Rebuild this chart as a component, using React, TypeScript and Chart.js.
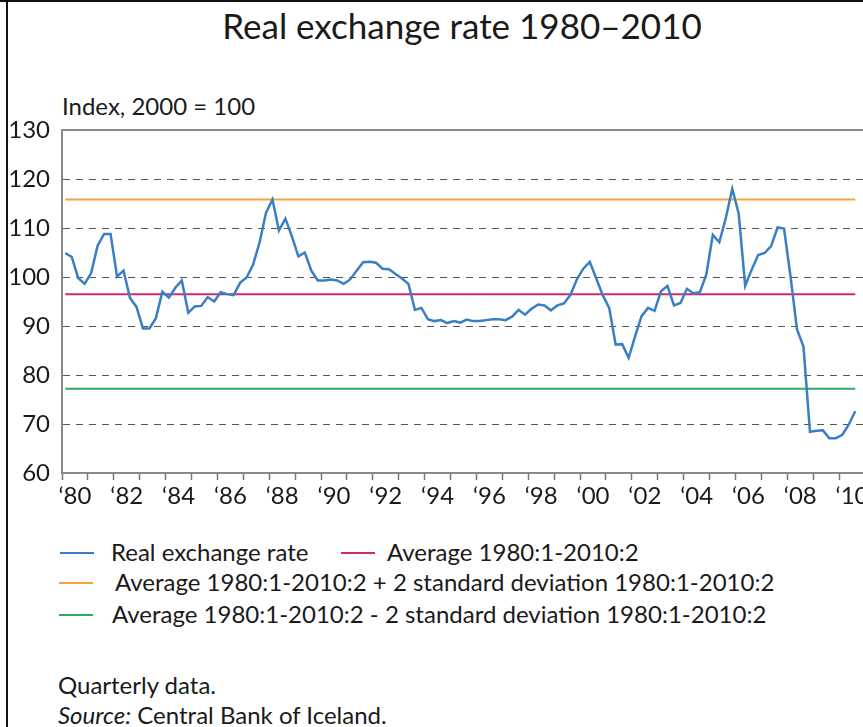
import React, { useEffect, useRef } from "react";
import { Chart, registerables } from "chart.js";

Chart.register(...registerables);

const FONT = "Lato, 'Open Sans', sans-serif";

// Quarterly data, first quarter 1980:1
const startYear = 1980;
const endYear = 2011;

const rate1980s = [
  104.9, 104.1, 99.8, 98.6, 100.8, 106.4, 108.8, 108.8, 100.1, 101.3,
  95.7, 93.9, 89.5, 89.5, 91.6, 97.0, 95.8, 97.8, 99.3, 92.7,
  94.0, 94.1, 95.9, 95.0, 96.9, 96.5, 96.3, 98.8, 99.9, 102.5,
  107.0, 113.1, 115.8, 109.5, 111.9, 108.3, 104.2, 105.0, 101.3, 99.3,
];
const rate1990s = [
  99.3, 99.5, 99.3, 98.6, 99.5, 101.3, 103.0, 103.1, 102.9, 101.7,
  101.6, 100.6, 99.7, 98.6, 93.3, 93.7, 91.4, 91.0, 91.2, 90.6,
  91.0, 90.7, 91.3, 91.0, 91.0, 91.2, 91.4, 91.4, 91.2, 91.9,
  93.3, 92.3, 93.5, 94.4, 94.2, 93.2, 94.2, 94.6, 96.3, 99.5,
];
const rate2000s = [
  101.7, 103.1, 99.7, 96.3, 93.7, 86.2, 86.3, 83.5, 87.9, 92.0,
  93.7, 93.1, 97.1, 98.2, 94.2, 94.7, 97.6, 96.7, 96.9, 100.5,
  108.6, 107.1, 112.0, 118.0, 112.9, 98.2, 101.5, 104.5, 104.9, 106.3,
  110.1, 109.9, 100.1, 89.3, 85.8, 68.4, 68.6, 68.7, 67.1, 67.1,
  67.8, 69.9, 72.6,
];
const realExchangeRate = [...rate1980s, ...rate1990s, ...rate2000s];

const averageLevel = 96.5;
const upperBand = 115.8; // average + 2 sd
const lowerBand = 77.2; // average - 2 sd

const yMin = 60;
const yMax = 130;
const yStep = 10;

const yearLabels = [
  "‘80", "‘82", "‘84", "‘86", "‘88", "‘90", "‘92", "‘94",
  "‘96", "‘98", "‘00", "‘02", "‘04", "‘06", "‘08", "‘10",
];

const seriesNames = [
  "Real exchange rate",
  "Average 1980:1-2010:2",
  "Average 1980:1-2010:2 + 2 standard deviation 1980:1-2010:2",
  "Average 1980:1-2010:2 - 2 standard deviation 1980:1-2010:2",
];
const seriesColors = ["#3a7fc4", "#cc2a72", "#f5a340", "#2eac60"];

const xOf = (i: number) => startYear + (i + 0.5) / 4;

function ChartCanvas() {
  const ref = useRef<HTMLCanvasElement>(null);
  useEffect(() => {
    const realPoints = realExchangeRate.map((v, i) => ({ x: xOf(i), y: v }));
    const levelPoints = (lvl: number) =>
      realExchangeRate.map((_, i) => ({ x: xOf(i), y: lvl }));
    const levels = [null, averageLevel, upperBand, lowerBand];

    const chart = new Chart(ref.current as HTMLCanvasElement, {
      type: "line",
      data: {
        datasets: seriesNames.map((name, k) => ({
          label: name,
          data: k === 0 ? realPoints : levelPoints(levels[k] as number),
          borderColor: seriesColors[k],
          backgroundColor: seriesColors[k],
          borderWidth: k === 0 ? 2.5 : 2,
          pointRadius: 0,
          tension: 0,
          fill: false,
        })),
      },
      options: {
        animation: false,
        responsive: true,
        maintainAspectRatio: false,
        layout: { padding: { top: 30, left: 8, right: 15, bottom: 0 } },
        plugins: {
          legend: { display: false },
          title: { display: false },
          tooltip: { enabled: false },
        },
        scales: {
          x: {
            type: "linear",
            min: startYear,
            max: endYear,
            afterBuildTicks: (scale: any) => {
              const t: { value: number }[] = [];
              for (let y = startYear; y <= endYear; y++) {
                t.push({ value: y });
                if (y < endYear) t.push({ value: y + 0.5 });
              }
              scale.ticks = t;
            },
            afterFit: (scale: any) => {
              scale.height = 40;
            },
            ticks: {
              autoSkip: false,
              maxRotation: 0,
              minRotation: 0,
              padding: 2,
              color: "#1a1a1a",
              font: { family: FONT, size: 24 },
              callback: (value: any) => {
                const v = Number(value);
                if (Math.abs(v - Math.floor(v) - 0.5) > 1e-6) return "";
                const yr = Math.floor(v);
                if ((yr - startYear) % 2 !== 0) return "";
                return yearLabels[(yr - startYear) / 2] ?? "";
              },
            },
            grid: {
              drawOnChartArea: false,
              drawTicks: true,
              tickLength: 7,
              tickWidth: 1.5,
              tickColor: (ctx: any) =>
                ctx.tick && Number.isInteger(ctx.tick.value) ? "#777" : "rgba(0,0,0,0)",
            },
            border: { display: true, color: "#888", width: 2 },
          },
          y: {
            type: "linear",
            min: yMin,
            max: yMax,
            afterFit: (scale: any) => {
              scale.width = 54;
            },
            ticks: {
              stepSize: yStep,
              padding: 12,
              color: "#1a1a1a",
              font: { family: FONT, size: 24 },
            },
            grid: {
              drawTicks: false,
              color: (ctx: any) =>
                ctx.tick && ctx.tick.value === yMax ? "#888" : "#555",
              lineWidth: (ctx: any) =>
                ctx.tick && ctx.tick.value === yMax ? 2 : 1,
            },
            border: {
              display: true,
              color: "#888",
              width: 2,
              dash: (ctx: any) =>
                ctx.tick && ctx.tick.value === yMax ? [] : [7, 6],
            } as any,
          },
        },
      },
    } as any);
    return () => chart.destroy();
  }, []);
  return <canvas ref={ref} />;
}

const legendRows = [
  { center: 553, items: [{ k: 0, line: 60, text: 111 }, { k: 1, line: 341, text: 387 }] },
  { center: 583, items: [{ k: 2, line: 59, text: 115 }] },
  { center: 615, items: [{ k: 3, line: 59, text: 112 }] },
];

export default function App() {
  const textBase: React.CSSProperties = {
    position: "absolute",
    fontSize: 24,
    lineHeight: "24px",
    whiteSpace: "nowrap",
  };
  return (
    <div
      style={{
        position: "absolute",
        left: 0,
        top: 0,
        width: 863,
        height: 727,
        overflow: "hidden",
        background: "#fff",
        fontFamily: FONT,
        color: "#1a1a1a",
      }}
    >
      <div style={{ position: "absolute", left: 0, top: 0, width: 863, height: 2, background: "#111" }} />
      <div style={{ position: "absolute", left: 6, top: 0, width: 2, height: 727, background: "#111" }} />
      <div
        style={{
          position: "absolute",
          left: 0,
          top: 8,
          width: 924,
          textAlign: "center",
          fontSize: 35,
          lineHeight: "35px",
          whiteSpace: "nowrap",
        }}
      >
        Real exchange rate 1980–2010
      </div>
      <div style={{ ...textBase, left: 62, top: 94 }}>Index, 2000 = 100</div>
      <div style={{ position: "absolute", left: 0, top: 100, width: 880, height: 413 }}>
        <ChartCanvas />
      </div>
      {legendRows.map((row, r) =>
        row.items.map((it) => (
          <React.Fragment key={`${r}-${it.k}`}>
            <div
              style={{
                position: "absolute",
                left: it.line,
                top: row.center - 1,
                width: 34,
                height: 2,
                background: seriesColors[it.k],
              }}
            />
            <div style={{ ...textBase, left: it.text, top: row.center - 13 }}>{seriesNames[it.k]}</div>
          </React.Fragment>
        ))
      )}
      <div style={{ ...textBase, left: 58, top: 673 }}>Quarterly data.</div>
      <div style={{ ...textBase, left: 58, top: 703 }}>
        <i>Source:</i> Central Bank of Iceland.
      </div>
    </div>
  );
}
